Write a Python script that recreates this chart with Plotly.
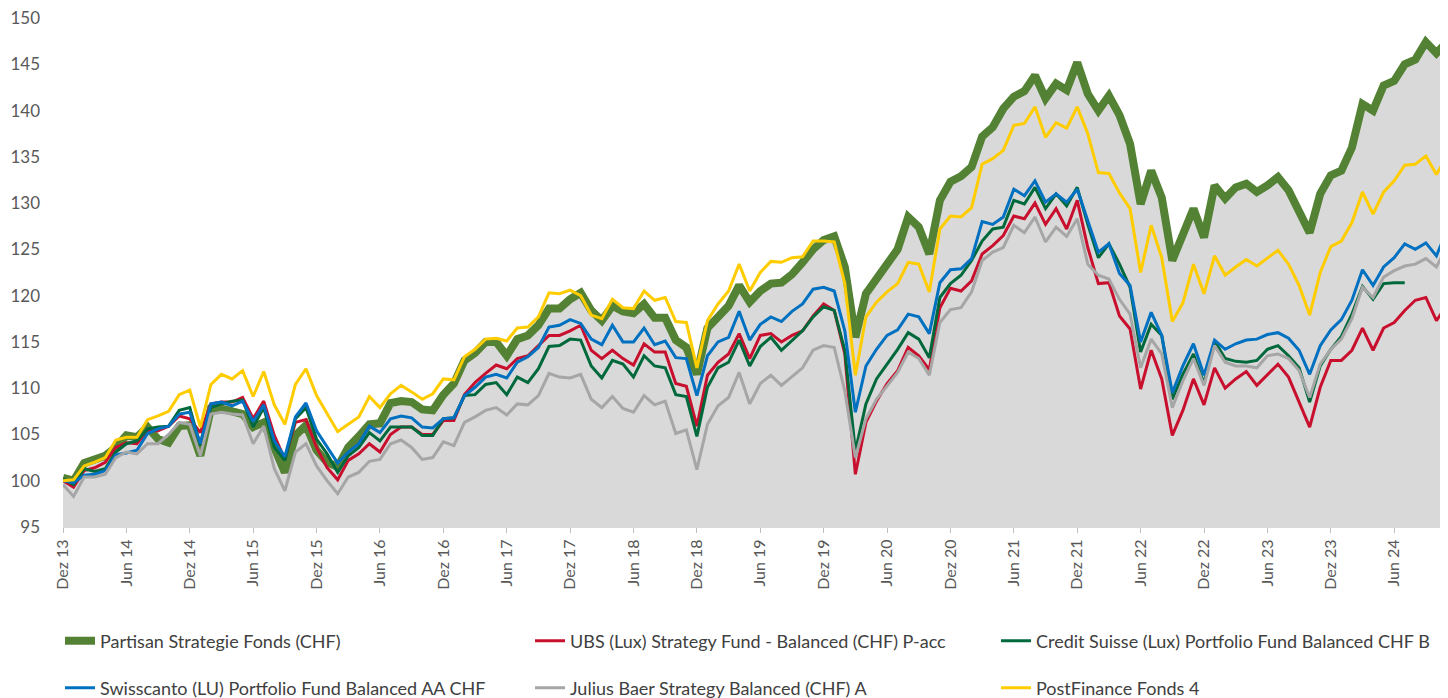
import plotly.graph_objects as go

# ---------------- data ----------------
month_names = ["Dez", "Jan", "Feb", "Mär", "Apr", "Mai", "Jun", "Jul", "Aug", "Sep", "Okt", "Nov"]
start_year = 13
n_months = 132
categories = []
for i in range(n_months):
    mi = i % 12
    yr = start_year + (i + 11) // 12
    categories.append(f"{month_names[mi]} {yr:02d}")

tick_labels = ["Dez 13", "Jun 14", "Dez 14", "Jun 15", "Dez 15", "Jun 16", "Dez 16", "Jun 17",
               "Dez 17", "Jun 18", "Dez 18", "Jun 19", "Dez 19", "Jun 20", "Dez 20", "Jun 21",
               "Dez 21", "Jun 22", "Dez 22", "Jun 23", "Dez 23", "Jun 24"]

partisan = [100.3, 100.0, 101.9, 102.2, 102.7, 103.6, 104.9, 104.7, 105.8, 104.5, 104.1, 105.9,
            106.0, 102.7, 107.8, 107.8, 107.6, 107.2, 105.8, 106.3, 103.6, 100.9, 104.9, 106.0,
            103.3, 102.0, 101.5, 103.6, 104.8, 106.1, 106.2, 108.4, 108.6, 108.5, 107.7, 107.6,
            109.3, 110.5, 113.0, 113.8, 115.0, 115.0, 113.5, 115.3, 115.7, 116.8, 118.6, 118.6,
            119.6, 120.3, 118.4, 117.3, 118.9, 118.3, 118.1, 119.1, 117.6, 117.6, 115.2, 114.4,
            111.5, 116.5, 117.7, 118.9, 121.1, 119.3, 120.5, 121.3, 121.4, 122.3, 123.6, 125.0,
            126.0, 126.4, 123.1, 115.5, 120.2, 122.0, 123.4, 125.0, 128.5, 127.4, 124.5, 130.3,
            132.3, 132.9, 133.9, 137.2, 138.2, 140.2, 141.5, 142.1, 143.8, 141.3, 142.9, 142.2,
            145.2, 141.8, 140.0, 141.6, 139.5, 136.4, 129.9, 133.5, 130.6, 123.8, 126.7, 129.4,
            126.3, 131.9, 130.5, 131.7, 132.1, 131.2, 131.9, 132.8, 131.4, 129.2, 126.8, 131.0,
            133.0, 133.5, 136.0, 140.7, 140.0, 142.7, 143.2, 145.0, 145.5, 147.4, 146.2, 147.4]

ubs = [100.0, 99.3, 101.1, 101.4, 102.0, 103.6, 104.1, 104.0, 105.4, 105.4, 105.9, 107.0,
       106.7, 105.2, 108.3, 108.5, 108.5, 109.0, 106.7, 108.6, 104.9, 102.3, 106.3, 106.6,
       103.6, 101.4, 100.1, 102.2, 102.9, 104.0, 103.1, 105.0, 105.8, 105.8, 105.0, 105.0,
       106.5, 106.5, 109.3, 110.6, 111.6, 112.5, 112.1, 113.2, 113.5, 114.6, 115.7, 115.7,
       116.2, 116.8, 114.1, 113.2, 114.1, 113.2, 112.5, 114.8, 113.9, 113.9, 110.5, 110.2,
       105.9, 111.4, 112.8, 113.7, 115.9, 113.2, 115.7, 115.9, 115.0, 115.7, 116.2, 117.8,
       119.1, 118.4, 113.7, 100.7, 106.3, 108.6, 110.5, 111.9, 114.4, 113.5, 112.0, 118.7,
       120.8, 120.5, 121.6, 124.5, 125.4, 126.5, 128.6, 128.3, 130.0, 127.7, 129.4, 127.2,
       130.3, 125.2, 121.3, 121.4, 117.8, 116.4, 109.9, 114.1, 111.0, 104.9, 107.6, 111.0,
       108.2, 112.2, 110.0, 111.0, 111.8, 110.3, 111.5, 112.6, 111.2, 108.6, 105.8, 110.1,
       113.0, 113.0, 114.1, 116.5, 114.1, 116.5, 117.1, 118.4, 119.5, 119.8, 117.3, 119.0]

credit_suisse = [100.2, 99.6, 101.3, 101.0, 101.3, 103.1, 104.0, 104.3, 105.6, 105.8, 105.9, 107.6,
                 107.9, 103.8, 107.9, 108.3, 108.6, 108.7, 105.8, 107.9, 103.6, 102.2, 106.7, 107.9,
                 104.5, 102.9, 100.9, 102.7, 103.6, 105.2, 104.3, 105.8, 105.8, 105.8, 104.9, 104.9,
                 106.7, 106.8, 109.2, 109.3, 110.4, 110.6, 109.3, 111.2, 110.6, 112.1, 114.5, 114.6,
                 115.3, 115.2, 112.4, 111.1, 113.0, 112.6, 111.2, 113.5, 112.4, 112.2, 109.3, 109.1,
                 104.8, 110.1, 112.2, 112.8, 115.2, 112.4, 114.5, 115.5, 114.1, 115.1, 116.2, 117.7,
                 118.8, 118.4, 114.1, 103.2, 108.3, 111.0, 112.6, 114.2, 116.0, 115.3, 113.3, 119.8,
                 121.3, 122.2, 123.8, 125.9, 127.2, 127.4, 130.3, 129.9, 131.7, 129.4, 131.0, 129.7,
                 131.7, 127.7, 124.1, 125.6, 123.4, 120.9, 113.9, 116.9, 115.7, 108.8, 111.5, 113.7,
                 110.5, 115.1, 113.2, 112.9, 112.8, 113.0, 114.2, 114.6, 113.5, 112.2, 108.5, 112.4,
                 114.2, 115.6, 118.0, 121.0, 119.6, 121.3, 121.4, 121.4, None, None, None, None]

swisscanto = [100.0, 99.8, 100.6, 100.7, 101.1, 102.8, 103.0, 103.3, 105.1, 105.6, 105.9, 107.2,
              107.4, 104.0, 108.3, 108.5, 108.1, 108.6, 106.4, 108.2, 104.3, 102.6, 106.9, 108.4,
              105.4, 103.6, 101.9, 103.1, 104.0, 105.9, 105.2, 106.7, 107.0, 106.8, 105.8, 105.7,
              106.7, 106.8, 109.2, 110.1, 111.2, 111.5, 111.1, 112.8, 113.4, 114.4, 116.6, 116.8,
              117.4, 117.0, 115.3, 114.7, 116.8, 115.0, 115.0, 116.5, 114.7, 115.1, 113.3, 113.2,
              109.2, 113.5, 115.0, 115.5, 118.3, 115.2, 116.9, 117.7, 117.2, 118.3, 119.1, 120.7,
              120.9, 120.5, 116.2, 107.4, 112.4, 114.2, 115.7, 116.3, 118.0, 117.7, 115.9, 121.4,
              122.8, 122.9, 124.0, 128.0, 127.7, 128.5, 131.5, 130.8, 132.4, 130.1, 131.0, 130.1,
              131.5, 128.1, 124.7, 125.6, 122.4, 121.1, 115.0, 118.2, 115.7, 109.5, 112.4, 114.8,
              111.4, 115.2, 114.2, 114.8, 115.2, 115.3, 115.8, 116.0, 115.4, 114.1, 111.5, 114.6,
              116.3, 117.4, 119.5, 122.8, 121.1, 123.1, 124.1, 125.6, 125.0, 125.7, 124.3, 127.1]

julius_baer = [99.6, 98.3, 100.4, 100.4, 100.7, 102.5, 103.1, 102.9, 104.0, 104.0, 105.0, 106.3,
               106.1, 102.7, 107.2, 107.4, 107.2, 107.1, 104.0, 105.9, 101.3, 98.9, 103.1, 104.0,
               101.6, 100.0, 98.6, 100.4, 100.9, 102.1, 102.3, 104.0, 104.4, 103.6, 102.3, 102.5,
               104.2, 103.8, 106.3, 106.9, 107.6, 107.9, 107.1, 108.3, 108.2, 109.2, 111.6, 111.2,
               111.1, 111.5, 108.8, 107.9, 109.1, 107.8, 107.4, 109.2, 108.2, 108.6, 105.1, 105.5,
               101.2, 106.1, 108.1, 109.0, 111.7, 108.3, 110.5, 111.4, 110.3, 111.2, 112.2, 114.1,
               114.6, 114.4, 109.7, 102.5, 106.7, 108.8, 110.3, 111.7, 113.9, 113.2, 111.4, 117.1,
               118.5, 118.7, 120.4, 123.8, 124.7, 125.2, 127.6, 126.8, 128.5, 125.8, 127.4, 126.4,
               128.3, 123.4, 122.2, 121.8, 119.6, 118.0, 112.2, 115.3, 113.7, 107.9, 110.8, 113.2,
               110.3, 114.6, 112.8, 112.4, 112.4, 112.2, 113.5, 113.7, 113.2, 111.9, 109.0, 112.6,
               114.2, 115.3, 117.5, 120.9, 119.8, 122.0, 122.7, 123.2, 123.4, 124.0, 123.1, 125.4]

postfinance = [100.0, 100.1, 101.6, 102.0, 102.5, 104.4, 104.7, 104.7, 106.6, 107.0, 107.5, 109.3,
               109.8, 105.8, 110.4, 111.5, 111.0, 111.9, 109.1, 111.8, 108.2, 106.1, 110.4, 112.1,
               109.2, 107.2, 105.3, 106.1, 106.9, 109.1, 107.9, 109.4, 110.3, 109.6, 108.8, 109.4,
               111.0, 110.9, 113.4, 114.2, 115.3, 115.4, 115.1, 116.5, 116.6, 117.7, 120.3, 120.2,
               120.6, 120.0, 117.9, 117.5, 119.6, 118.7, 118.6, 120.5, 119.5, 119.8, 117.2, 117.1,
               112.2, 117.3, 119.1, 120.5, 123.4, 120.5, 122.5, 123.7, 123.6, 124.1, 124.2, 125.9,
               125.9, 125.8, 121.3, 111.4, 117.7, 119.3, 120.4, 121.3, 123.6, 123.4, 120.4, 127.2,
               128.6, 128.5, 129.5, 134.2, 134.8, 135.7, 138.4, 138.6, 140.4, 137.1, 138.7, 138.1,
               140.4, 137.5, 133.3, 133.2, 131.1, 129.4, 122.5, 127.6, 124.1, 117.2, 119.2, 123.4,
               120.2, 124.3, 122.2, 123.1, 123.9, 123.2, 124.1, 124.9, 123.4, 121.1, 117.9, 122.5,
               125.3, 125.9, 127.9, 131.2, 128.8, 131.2, 132.4, 134.1, 134.2, 135.1, 133.1, 135.1]

series_names = ["Partisan Strategie Fonds (CHF)",
                "UBS (Lux) Strategy Fund - Balanced (CHF) P-acc",
                "Credit Suisse (Lux) Portfolio Fund Balanced CHF B",
                "Swisscanto (LU) Portfolio Fund Balanced AA CHF",
                "Julius Baer Strategy Balanced (CHF) A",
                "PostFinance Fonds 4"]

# ---------------- figure ----------------
FONT = "Lato"
TXT = "#595959"

# the page body adds an 8px offset, so the figure is 8px smaller than the window
W, H = 1440, 690
ml, mr, mt, mb = 55, 1, 10, 171
plot_h = H - mt - mb
plot_w = W - ml - mr


def ypaper(px):
    return (H - mb - px) / plot_h


def xpaper(px):
    return (px - ml) / plot_w


fig = go.Figure()

# grey area under the Partisan series
fig.add_trace(go.Scatter(x=categories, y=partisan, mode="lines", fill="tozeroy",
                         fillcolor="#D9D9D9", line=dict(width=0, color="#D9D9D9"),
                         showlegend=False, hoverinfo="skip"))

colors = ["#548235", "#C8102E", "#00693C", "#0070C0", "#A6A6A6", "#FFCC00"]
widths = [8, 3, 3, 3, 3, 3]
all_values = [partisan, ubs, credit_suisse, swisscanto, julius_baer, postfinance]
legend_ids = ["legend", "legend2", "legend3", "legend4", "legend5", "legend6"]

for name, vals, col, w, lg in zip(series_names, all_values, colors, widths, legend_ids):
    fig.add_trace(go.Scatter(x=categories, y=vals, name=name, mode="lines",
                             line=dict(color=col, width=w), legend=lg,
                             connectgaps=False))

tickvals = [categories[i] for i in range(0, n_months, 6)]

legend_common = dict(orientation="h", xanchor="left", yanchor="middle",
                     font=dict(family=FONT, size=18, color="#404040"),
                     bgcolor="rgba(0,0,0,0)", borderwidth=0)

col_x = [52, 522, 988]
row_y = [633, 680]
legend_layout = {}
for k, lg in enumerate(legend_ids):
    r, c = divmod(k, 3)
    legend_layout[lg] = dict(legend_common, x=xpaper(col_x[c]), y=ypaper(row_y[r]))

fig.update_layout(
    width=W, height=H,
    margin=dict(l=ml, r=mr, t=mt, b=mb, autoexpand=False),
    paper_bgcolor="white", plot_bgcolor="white",
    font=dict(family=FONT, size=16, color=TXT),
    xaxis=dict(type="category", range=[0, n_months - 1], tickmode="array",
               tickvals=tickvals, ticktext=tick_labels, tickangle=-90,
               showgrid=False, zeroline=False, showline=True, linecolor="#D9D9D9",
               linewidth=1, ticks="outside", ticklen=5, tickcolor="#BFBFBF",
               automargin=False,
               tickfont=dict(family=FONT, size=16, color=TXT)),
    yaxis=dict(range=[95, 150], dtick=5, tick0=95, showgrid=False, zeroline=False,
               showline=False, ticks="", ticklabelstandoff=22, automargin=False,
               ticklabeloverflow="allow",
               tickfont=dict(family=FONT, size=17, color=TXT)),
    showlegend=True,
    **legend_layout,
)

fig.write_html("out.html")
